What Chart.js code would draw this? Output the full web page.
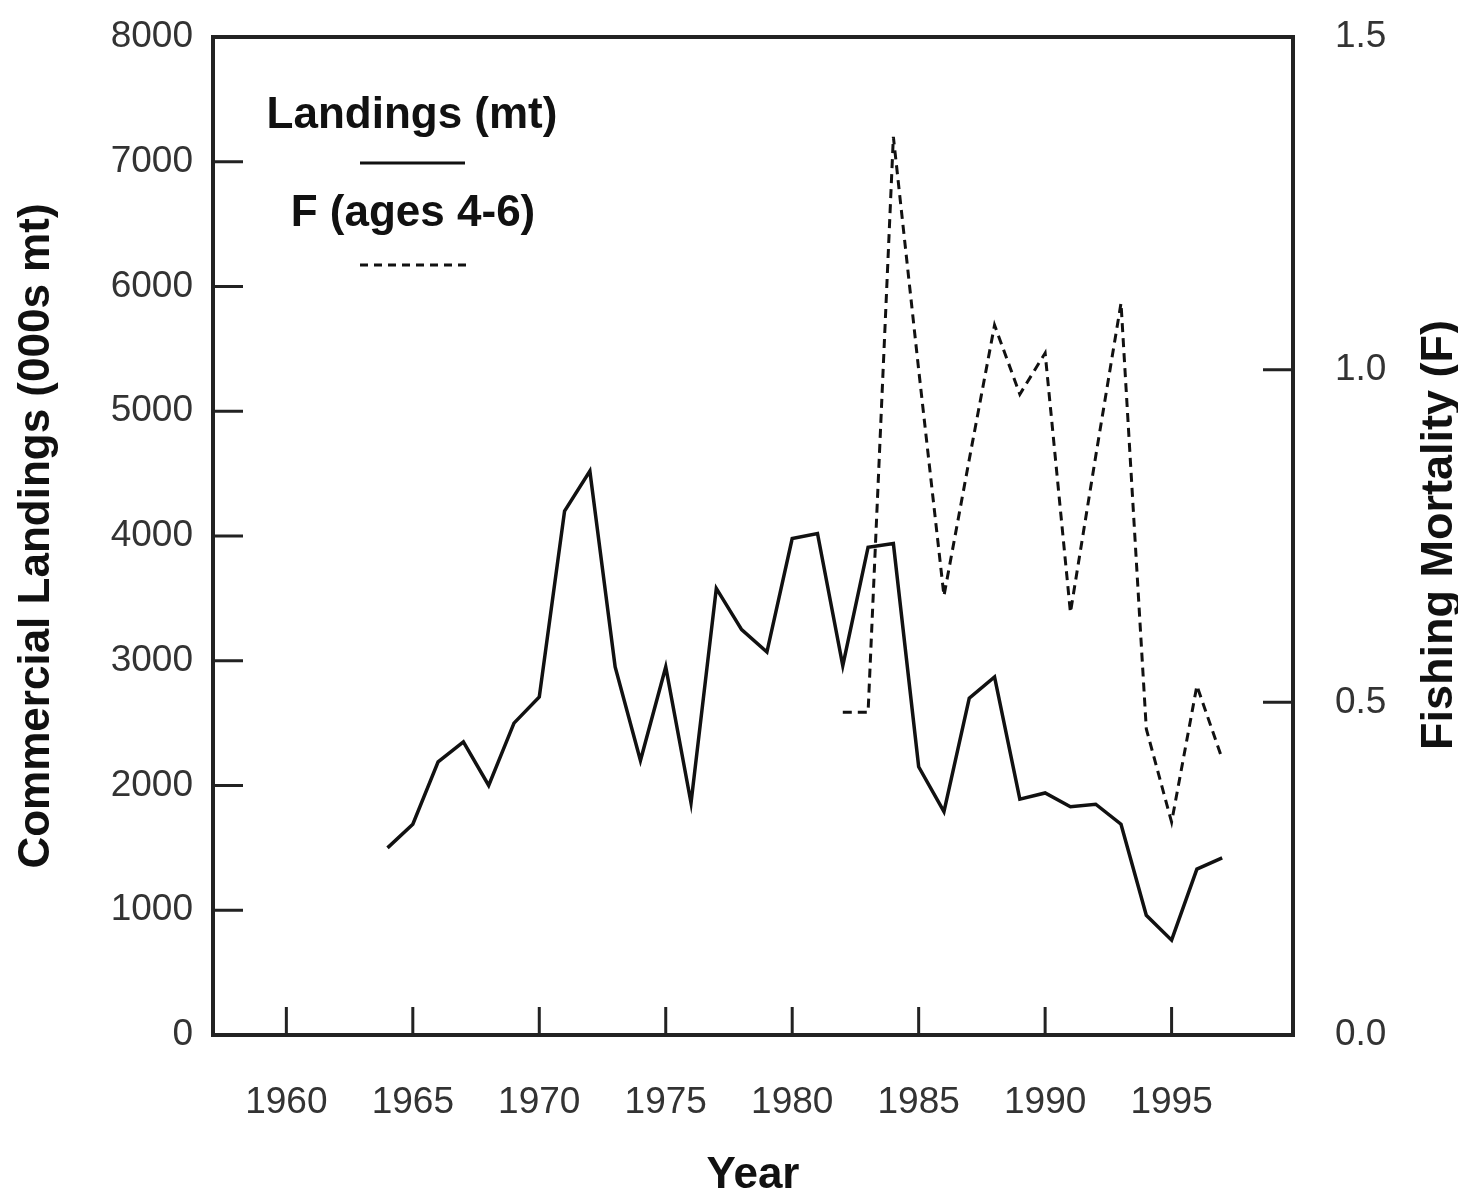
<!DOCTYPE html>
<html>
<head>
<meta charset="utf-8">
<script src="https://cdn.jsdelivr.net/npm/chart.js@4"></script>
<style>
    body { margin: 0; background: #fff; }
    #wrap { width: 1458px; height: 1194px; }
</style>
</head>
<body>
<div id="wrap"><canvas id="chart" width="1458" height="1194"></canvas></div>
<script>
// DATA
const landYears = [1964, 1965, 1966, 1967, 1968, 1969, 1970, 1971, 1972, 1973, 1974, 1975, 1976, 1977, 1978, 1979, 1980,
    1981, 1982, 1983, 1984, 1985, 1986, 1987, 1988, 1989, 1990, 1991, 1992, 1993, 1994, 1995, 1996, 1997];
const landings = [1500, 1690, 2190, 2350, 2000, 2500, 2710, 4200, 4520, 2950, 2200, 2950, 1860, 3580, 3250, 3070, 3980,
    4020, 2960, 3910, 3940, 2150, 1790, 2700, 2870, 1890, 1940, 1830, 1850, 1690, 960, 760, 1330, 1420];

const fYears = [1982, 1983, 1984, 1985, 1986, 1987, 1988, 1989, 1990, 1991, 1992, 1993, 1994, 1995, 1996, 1997];
const fMort = [0.485, 0.485, 1.35, 1.0, 0.66, 0.865, 1.067, 0.963, 1.025, 0.635, 0.87, 1.10, 0.46, 0.32, 0.525, 0.415];

const yearTicks = [1960, 1965, 1970, 1975, 1980, 1985, 1990, 1995];

const FONT = "'Liberation Sans', Arial, sans-serif";
const INK = "#111";

// keep the plot box where the original has it
function fixWidth(w) {
    return axis => {
        axis.width = w;
        axis.paddingTop = 0;
        axis.paddingBottom = 0;
    };
}

// frame, inward ticks, right title and legend
const extras = {
    id: "extras",
    afterDraw(chart) {
        const ctx = chart.ctx;
        const a = chart.chartArea;
        const s = chart.scales;
        ctx.save();
        ctx.strokeStyle = "#222";
        ctx.lineWidth = 4;
        ctx.strokeRect(a.left, a.top, a.right - a.left, a.bottom - a.top);

        ctx.lineWidth = 3;
        ctx.beginPath();
        s.y.ticks.forEach(t => {
            let py = s.y.getPixelForValue(t.value);
            ctx.moveTo(a.left, py);
            ctx.lineTo(a.left + 30, py);
        });
        s.y1.ticks.forEach(t => {
            let py = s.y1.getPixelForValue(t.value);
            ctx.moveTo(a.right, py);
            ctx.lineTo(a.right - 30, py);
        });
        s.x.ticks.forEach(t => {
            let px = s.x.getPixelForValue(t.value);
            ctx.moveTo(px, a.bottom);
            ctx.lineTo(px, a.bottom - 28);
        });
        ctx.stroke();

        // right axis title
        ctx.fillStyle = INK;
        ctx.font = "bold 45px " + FONT;
        ctx.textAlign = "center";
        ctx.textBaseline = "middle";
        ctx.save();
        ctx.translate(1440, 535);
        ctx.rotate(-Math.PI / 2);
        ctx.fillText("Fishing Mortality (F)", 0, 0);
        ctx.restore();

        // legend
        ctx.font = "bold 44px " + FONT;
        ctx.fillText("Landings (mt)", 412, 116);
        ctx.fillText("F (ages 4-6)", 413, 214);
        ctx.strokeStyle = INK;
        ctx.lineWidth = 3;
        ctx.beginPath();
        ctx.moveTo(360, 163);
        ctx.lineTo(465, 163);
        ctx.stroke();
        ctx.setLineDash([8, 6]);
        ctx.beginPath();
        ctx.moveTo(360, 265);
        ctx.lineTo(466, 265);
        ctx.stroke();
        ctx.restore();
    }
};

new Chart(document.getElementById("chart"), {
    type: "line",
    data: {
        datasets: [
            {
                label: "Landings (mt)",
                data: landYears.map((yr, i) => ({ x: yr, y: landings[i] })),
                borderColor: INK,
                borderWidth: 3.5,
                pointRadius: 0,
                tension: 0,
                yAxisID: "y"
            },
            {
                label: "F (ages 4-6)",
                data: fYears.map((yr, i) => ({ x: yr, y: fMort[i] })),
                borderColor: INK,
                borderWidth: 3,
                borderDash: [9, 6],
                pointRadius: 0,
                tension: 0,
                yAxisID: "y1"
            }
        ]
    },
    options: {
        responsive: false,
        animation: false,
        layout: { padding: { top: 37 } },
        plugins: { legend: { display: false }, tooltip: { enabled: false } },
        scales: {
            x: {
                type: "linear",
                min: 1957.1,
                max: 1999.8,
                afterBuildTicks: axis => { axis.ticks = yearTicks.map(v => ({ value: v })); },
                afterFit: axis => {
                    axis.height = 159;
                    axis.paddingLeft = 0;
                    axis.paddingRight = 0;
                },
                grid: { display: false },
                border: { display: false },
                ticks: {
                    padding: 38,
                    color: "#333",
                    font: { family: FONT, size: 37 },
                    callback: v => String(v)
                },
                title: {
                    display: true,
                    text: "Year",
                    color: INK,
                    font: { family: FONT, size: 44, weight: "bold" },
                    padding: { top: 0, bottom: -8 }
                }
            },
            y: {
                position: "left",
                min: 0,
                max: 8000,
                afterFit: fixWidth(213),
                grid: { display: false },
                border: { display: false },
                ticks: {
                    stepSize: 1000,
                    padding: 12,
                    color: "#333",
                    font: { family: FONT, size: 37 },
                    callback: v => String(v)
                },
                title: {
                    display: true,
                    text: "Commercial Landings (000s mt)",
                    color: INK,
                    font: { family: FONT, size: 44, weight: "bold" },
                    padding: { top: 10, bottom: 0 }
                }
            },
            y1: {
                position: "right",
                min: 0,
                max: 1.5,
                afterFit: fixWidth(165),
                grid: { display: false },
                border: { display: false },
                ticks: {
                    stepSize: 0.5,
                    padding: 34,
                    color: "#333",
                    font: { family: FONT, size: 37 },
                    callback: v => Number(v).toFixed(1)
                }
            }
        }
    },
    plugins: [extras]
});
</script>
</body>
</html>
